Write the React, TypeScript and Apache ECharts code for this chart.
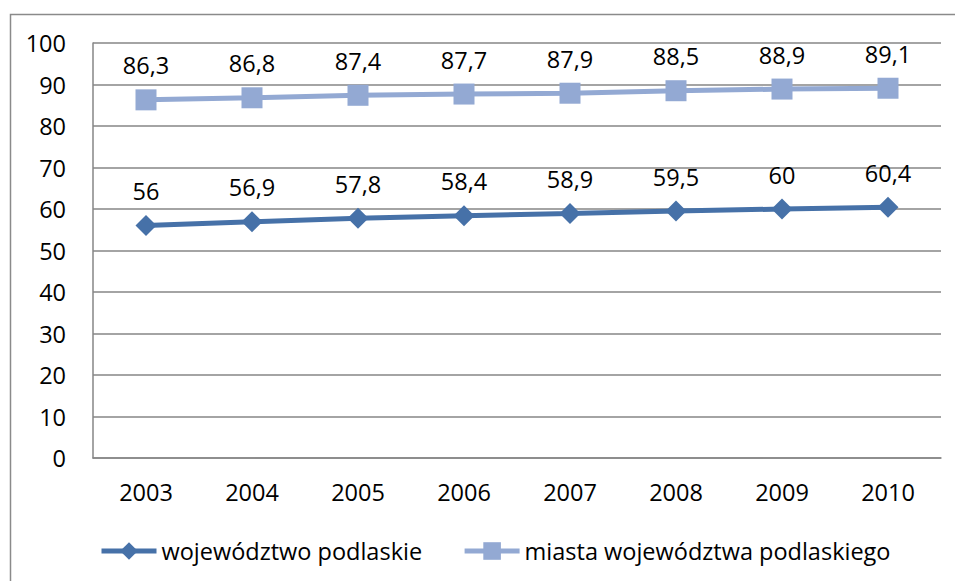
import React, { useEffect, useRef } from "react";
import * as echarts from "echarts";

const years = ["2003", "2004", "2005", "2006", "2007", "2008", "2009", "2010"];
const wojewodztwo = [56, 56.9, 57.8, 58.4, 58.9, 59.5, 60, 60.4];
const miasta = [86.3, 86.8, 87.4, 87.7, 87.9, 88.5, 88.9, 89.1];
const seriesNames = ["województwo podlaskie", "miasta województwa podlaskiego"];

const FONT = "'Open Sans', sans-serif";
const FS = 23.5;
const fmt = (v: number) => String(v).replace(".", ",");

export default function App() {
  const ref = useRef<HTMLDivElement>(null);
  useEffect(() => {
    if (!ref.current) return;
    const chart = echarts.init(ref.current, undefined, { renderer: "svg" });
    chart.setOption({
      animation: false,
      backgroundColor: "#ffffff",
      textStyle: { fontFamily: FONT, color: "#000" },
      graphic: [
        {
          type: "rect",
          shape: { x: 10.5, y: 14.5, width: 960, height: 600 },
          style: { fill: "none", stroke: "#8a8a8a", lineWidth: 1.5 },
          silent: true,
        },
      ],
      grid: { left: 93, right: 14, top: 43, bottom: 123, containLabel: false },
      legend: {
        left: 94,
        top: 534,
        itemWidth: 55,
        itemHeight: 22,
        itemGap: 40,
        lineStyle: { width: 5 },
        textStyle: { fontFamily: FONT, fontSize: FS, color: "#000", padding: [0, 0, 0, 0] },
        data: seriesNames,
      },
      xAxis: {
        type: "category",
        data: years,
        boundaryGap: true,
        axisLine: { show: true, lineStyle: { color: "#868686", width: 1.5 } },
        axisTick: { show: false },
        axisLabel: { color: "#000", fontSize: FS, fontFamily: FONT, margin: 22 },
      },
      yAxis: {
        type: "value",
        min: 0,
        max: 100,
        interval: 10,
        axisLine: { show: true, lineStyle: { color: "#868686", width: 1.5 } },
        axisTick: { show: false },
        splitLine: { show: true, lineStyle: { color: "#868686", width: 1.5 } },
        axisLabel: { color: "#000", fontSize: FS, fontFamily: FONT, margin: 27 },
      },
      series: [
        {
          name: seriesNames[0],
          type: "line",
          data: wojewodztwo,
          symbol: "diamond",
          symbolSize: 21,
          itemStyle: { color: "#4671A8" },
          lineStyle: { color: "#4671A8", width: 5 },
          label: {
            show: true,
            position: "top",
            distance: 12,
            fontSize: FS,
            fontFamily: FONT,
            color: "#000",
            formatter: (p: any) => fmt(p.value),
          },
        },
        {
          name: seriesNames[1],
          type: "line",
          data: miasta,
          symbol: "rect",
          symbolSize: 21,
          itemStyle: { color: "#93A9D3" },
          lineStyle: { color: "#93A9D3", width: 5 },
          label: {
            show: true,
            position: "top",
            distance: 12,
            fontSize: FS,
            fontFamily: FONT,
            color: "#000",
            formatter: (p: any) => fmt(p.value),
          },
        },
      ],
    });
    return () => chart.dispose();
  }, []);
  return <div ref={ref} style={{ width: 955, height: 581, position: "absolute", left: 0, top: 0 }} />;
}
